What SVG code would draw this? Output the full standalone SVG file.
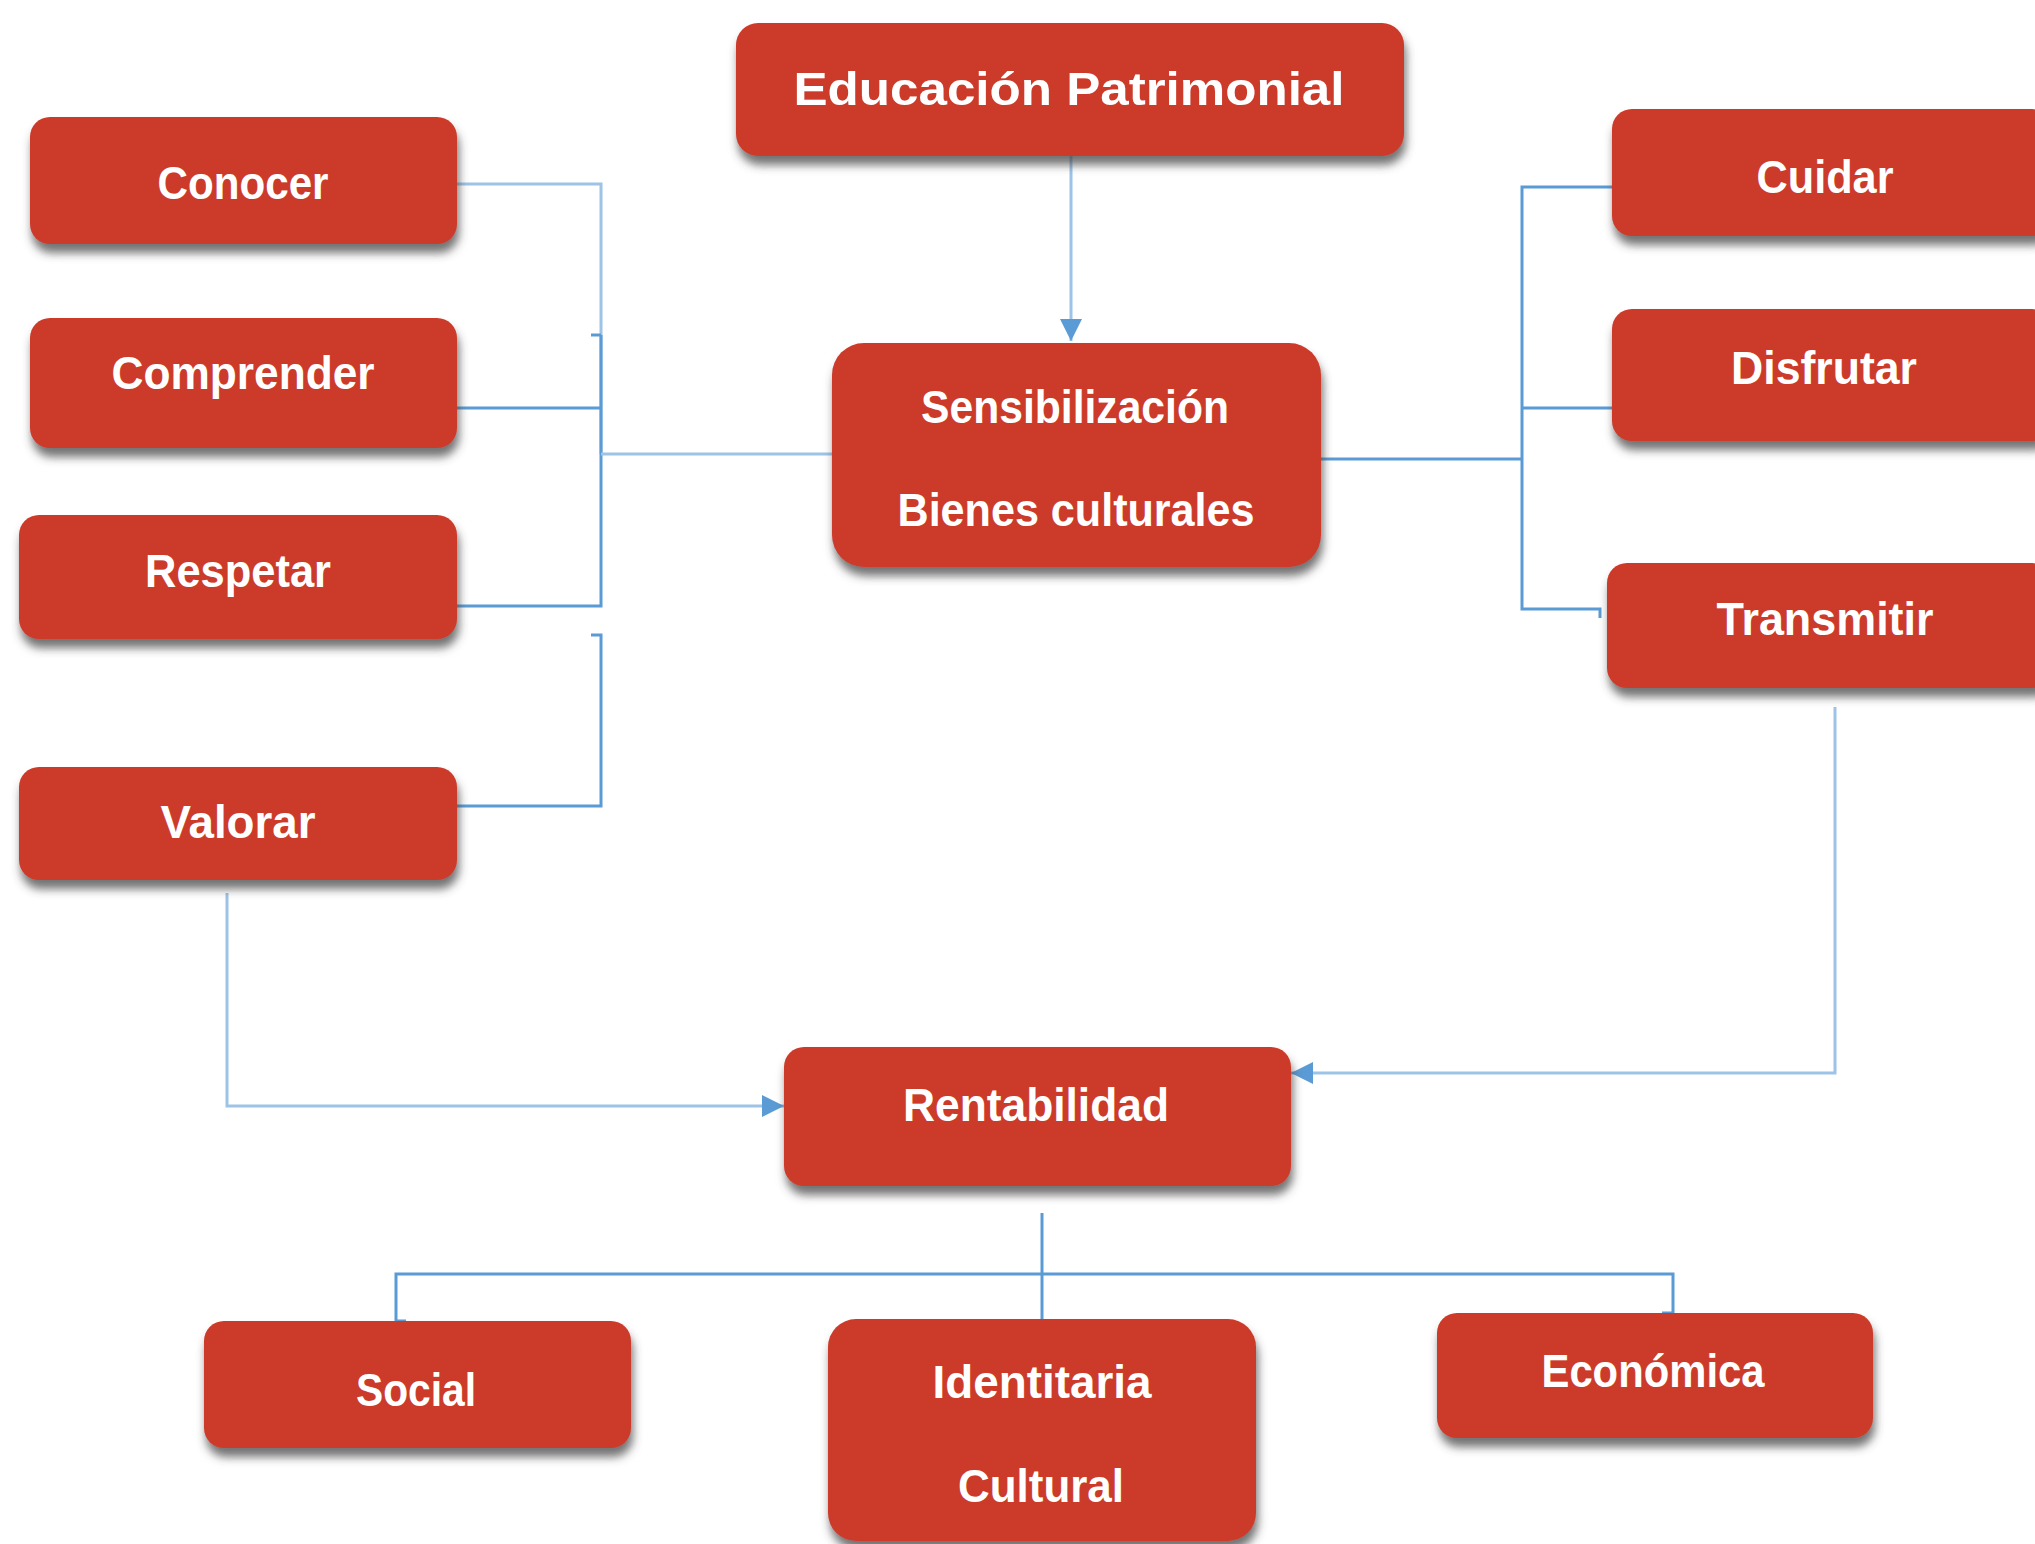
<svg xmlns="http://www.w3.org/2000/svg" width="2035" height="1544" viewBox="0 0 2035 1544">
<style>
.box{fill:#CC3B2A;filter:url(#sh)}
.t{font-family:"Liberation Sans",Arial,sans-serif;font-weight:bold;fill:#fff;font-size:46px;text-anchor:middle}
.c{fill:none;stroke:#5B9BD5;stroke-width:3}
.cl{fill:none;stroke:#9DC3E6;stroke-width:3}
</style>
<defs>
<filter id="sh" x="-10%" y="-10%" width="125%" height="135%">
<feDropShadow dx="2" dy="9" stdDeviation="5" flood-color="#444" flood-opacity="0.75"/>
</filter>
<marker id="ar" markerUnits="userSpaceOnUse" markerWidth="24" markerHeight="24" refX="22" refY="12" orient="auto">
<path d="M0 1 L22 12 L0 23 Z" fill="#5B9BD5"/>
</marker>
</defs>
<rect width="2035" height="1544" fill="#fff"/>
<g id="connectors">
<path class="cl" d="M1071 156 V341" marker-end="url(#ar)"/>
<path class="cl" d="M457 184 H601 V454"/>
<path class="c" d="M601 335 V606 H457"/>
<path class="c" d="M591 335 H601"/>
<path class="c" d="M457 408 H601"/>
<path class="cl" d="M601 454 H832"/>
<path class="c" d="M591 635 H601 V806 H457"/>
<path class="c" d="M1612 187 H1522 V609 H1600 V618"/>
<path class="c" d="M1522 408 H1612"/>
<path class="c" d="M1321 459 H1522"/>
<path class="cl" d="M227 893 V1106 H784" marker-end="url(#ar)"/>
<path class="cl" d="M1835 707 V1073 H1291" marker-end="url(#ar)"/>
<path class="c" d="M1042 1213 V1321"/>
<path class="c" d="M406 1321 H396 V1274 H1673 V1313 H1662"/>
</g>
<g id="n-educacion"><rect class="box" x="736" y="23" width="668" height="133" rx="22"/><text class="t" x="1069" y="105" font-size="56" textLength="551" lengthAdjust="spacingAndGlyphs">Educación Patrimonial</text></g>
<g id="n-conocer"><rect class="box" x="30" y="117" width="427" height="127" rx="20"/><text class="t" x="243" y="199" textLength="171" lengthAdjust="spacingAndGlyphs">Conocer</text></g>
<g id="n-comprender"><rect class="box" x="30" y="318" width="427" height="130" rx="20"/><text class="t" x="243" y="389" textLength="263" lengthAdjust="spacingAndGlyphs">Comprender</text></g>
<g id="n-respetar"><rect class="box" x="19" y="515" width="438" height="124" rx="20"/><text class="t" x="238" y="587" textLength="186" lengthAdjust="spacingAndGlyphs">Respetar</text></g>
<g id="n-valorar"><rect class="box" x="19" y="767" width="438" height="113" rx="20"/><text class="t" x="238" y="838" textLength="155" lengthAdjust="spacingAndGlyphs">Valorar</text></g>
<g id="n-sensibilizacion"><rect class="box" x="832" y="343" width="489" height="224" rx="32"/><text class="t" x="1075" y="423" textLength="308" lengthAdjust="spacingAndGlyphs">Sensibilización</text><text class="t" x="1076" y="526" textLength="357" lengthAdjust="spacingAndGlyphs">Bienes culturales</text></g>
<g id="n-cuidar"><rect class="box" x="1612" y="109" width="440" height="127" rx="20"/><text class="t" x="1825" y="193" textLength="137" lengthAdjust="spacingAndGlyphs">Cuidar</text></g>
<g id="n-disfrutar"><rect class="box" x="1612" y="309" width="440" height="132" rx="20"/><text class="t" x="1824" y="384" textLength="186" lengthAdjust="spacingAndGlyphs">Disfrutar</text></g>
<g id="n-transmitir"><rect class="box" x="1607" y="563" width="445" height="125" rx="20"/><text class="t" x="1825" y="635" textLength="217" lengthAdjust="spacingAndGlyphs">Transmitir</text></g>
<g id="n-rentabilidad"><rect class="box" x="784" y="1047" width="507" height="139" rx="20"/><text class="t" x="1036" y="1121" textLength="266" lengthAdjust="spacingAndGlyphs">Rentabilidad</text></g>
<g id="n-social"><rect class="box" x="204" y="1321" width="427" height="127" rx="20"/><text class="t" x="416" y="1406" textLength="120" lengthAdjust="spacingAndGlyphs">Social</text></g>
<g id="n-identitaria"><rect class="box" x="828" y="1319" width="428" height="222" rx="28"/><text class="t" x="1042" y="1398" textLength="219" lengthAdjust="spacingAndGlyphs">Identitaria</text><text class="t" x="1041" y="1502" textLength="166" lengthAdjust="spacingAndGlyphs">Cultural</text></g>
<g id="n-economica"><rect class="box" x="1437" y="1313" width="436" height="125" rx="20"/><text class="t" x="1653" y="1387" textLength="223" lengthAdjust="spacingAndGlyphs">Económica</text></g>
</svg>
